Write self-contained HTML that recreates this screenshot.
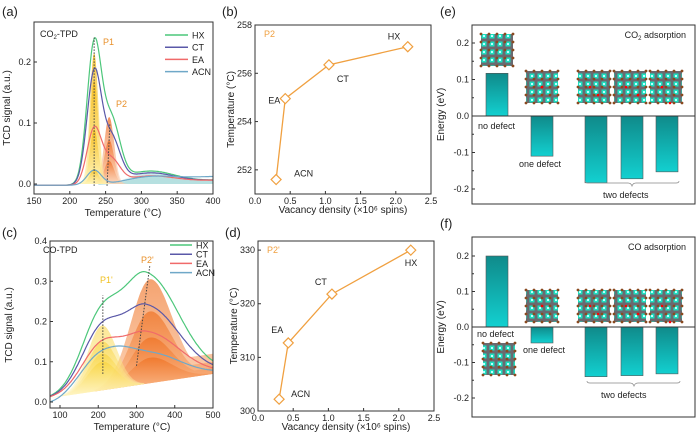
<!DOCTYPE html>
<html><head><meta charset="utf-8"><style>
body{margin:0;background:#fff;}
svg{display:block;font-family:"Liberation Sans",Arial,sans-serif;}
</style></head><body>
<svg id="fig" width="700" height="440" viewBox="0 0 700 440" xmlns="http://www.w3.org/2000/svg">
<defs>
<linearGradient id="gy" x1="0" y1="0" x2="0" y2="1"><stop offset="0" stop-color="#f5b400"/><stop offset="1" stop-color="#fff2a8" stop-opacity="0.5"/></linearGradient>
<linearGradient id="go" x1="0" y1="0" x2="0" y2="1"><stop offset="0" stop-color="#ee6012"/><stop offset="1" stop-color="#fbd0b0" stop-opacity="0.6"/></linearGradient>
<linearGradient id="gy2" x1="0" y1="0" x2="0" y2="1"><stop offset="0" stop-color="#f8cf2a"/><stop offset="1" stop-color="#fff6c8"/></linearGradient>
<linearGradient id="go2" x1="0" y1="0" x2="0" y2="1"><stop offset="0" stop-color="#ee6a18"/><stop offset="1" stop-color="#fab98a"/></linearGradient>
<linearGradient id="gb" x1="0" y1="0" x2="0" y2="1"><stop offset="0" stop-color="#108a8a"/><stop offset="1" stop-color="#12d0d0"/></linearGradient>
<pattern id="mol" width="8" height="8" patternUnits="userSpaceOnUse">
<rect width="8" height="8" fill="#6a6a70"/><rect x="1.5" y="1.5" width="5" height="5" fill="#1ee0c0"/><rect x="3" y="3" width="2" height="2" fill="#bff"/>
</pattern>
<clipPath id="ca"><rect x="34" y="22" width="179" height="172"/></clipPath>
<clipPath id="cc"><rect x="50" y="241" width="163" height="167"/></clipPath>
</defs>
<g id="root"></g>
</svg>
<script>
// ---------- data ----------
var seriesNames=["HX","CT","EA","ACN"];
var seriesColors=["#4cc77a","#5a58a8","#f06a6a","#6fa8c8"];
// panel a: CO2-TPD peak heights (P1 at 234, P2 at 256, broad at 310)
var aP1=[0.225,0.18,0.09,0.024];
var aP2=[0.10,0.072,0.038,0.0];
var aBroad=[0.02,0.017,0.012,0.01];
var aFillP1=[0.215,0.17,0.09,0.025];
var aFillP2=[0.11,0.072,0.038];
// panel c: CO-TPD peak heights (P1' at 205, P2' at 325)
var cP1=[0.173,0.14,0.105,0.085];
var cP2=[0.268,0.19,0.125,0.075];
var cFillP1=[0.19,0.15,0.12,0.10];
var cFillP2=[0.305,0.225,0.16,0.11];
var cFillEnd=[0.12,0.10,0.085,0.07];
// panel b
var bVac=[0.3,0.43,1.05,2.17];
var bTemp=[251.6,254.95,256.35,257.1];
var bLab=["ACN","EA","CT","HX"];
// panel d
var dVac=[0.3,0.43,1.05,2.17];
var dTemp=[302.2,312.7,321.8,330];
// panel e / f
var eVals=[0.117,-0.11,-0.183,-0.172,-0.153];
var fVals=[0.2,-0.045,-0.14,-0.137,-0.132];
var aXTicks=[150,200,250,300,350,400];
var aYTicks=[0.0,0.1,0.2];
var cXTicks=[100,200,300,400,500];
var cYTicks=[0.0,0.1,0.2,0.3,0.4];
var bXTicks=[0.0,0.5,1.0,1.5,2.0,2.5];
var bYTicks=[252,254,256,258];
var dYTicks=[300,310,320,330];
var eYTicks=[-0.2,-0.1,0.0,0.1,0.2];

var NS="http://www.w3.org/2000/svg";
var root=document.getElementById('root');
function el(tag,attrs,parent,text){var e=document.createElementNS(NS,tag);for(var k in attrs)e.setAttribute(k,attrs[k]);if(text!==undefined)e.textContent=text;(parent||root).appendChild(e);return e;}
function lin(d0,d1,p0,p1){return function(v){return p0+(v-d0)*(p1-p0)/(d1-d0);};}
function gs(x,c,h,s){return h*Math.exp(-Math.pow(x-c,2)/(2*s*s));}

function frame(x0,y0,x1,y1,name){
  var r=el('rect',{x:x0,y:y0,width:x1-x0,height:y1-y0,fill:'none',stroke:'#333','stroke-width':1});
  
  
}
function xticks(ticks,X,y,fmt,name){
  ticks.forEach(function(t){el('line',{x1:X(t),x2:X(t),y1:y,y2:y-3,stroke:'#333'});
    var tx=el('text',{x:X(t),y:y+10,'font-size':9,'text-anchor':'middle',fill:'#222'},null,String(fmt(t)));
    
    });
}
function yticks(ticks,Y,x,fmt,name){
  ticks.forEach(function(t){el('line',{x1:x,x2:x+3,y1:Y(t),y2:Y(t),stroke:'#333'});
    var tx=el('text',{x:x-3,y:Y(t)+3,'font-size':9,'text-anchor':'end',fill:'#222'},null,String(fmt(t)));
    
    });
}
function label(x,y,t,size,name,opts){
  var a={x:x,y:y,'font-size':size,fill:'#222'};if(opts)for(var k in opts)a[k]=opts[k];
  var tx=el('text',a,null,t);
  
  
  return tx;
}
function subLabel(x,y,pre,sub,post,size,name,anchor){
  var tx=el('text',{x:x,y:y,'font-size':size,fill:'#222','text-anchor':anchor||'start'});
  
  
  el('tspan',{},tx,pre);el('tspan',{'font-size':6,dy:2},tx,sub);el('tspan',{dy:-2},tx,post);
}
function vlabel(x,y,t,name){
  var tx=el('text',{x:0,y:0,'font-size':10,'text-anchor':'middle',fill:'#222',transform:'translate('+x+','+y+') rotate(-90)'},null,t);
  
  
}
function pathFrom(fn,x0,x1,X,Y,n){var d='';for(var i=0;i<=n;i++){var x=x0+(x1-x0)*i/n;d+=(i?'L':'M')+X(x).toFixed(1)+','+Y(fn(x)).toFixed(1);}return d;}

// ---------- panel a ----------
try{(function(){
var X=lin(150,400,34,213),Y=lin(0,0.2,184,62);
function base(x){return -0.002+0.008*Math.max(0,(x-250)/150);}
var G=el('g',{'clip-path':'url(#ca)'});
var i,p;
for(i=3;i>=0;i--){(function(i){var f=function(x){return base(x)+gs(x,315,aBroad[i],30);};
  p=el('path',{d:pathFrom(f,240,400,X,Y,60)+'L'+X(400)+','+Y(0)+'L'+X(240)+','+Y(0)+'Z',fill:'#9fd6d6','fill-opacity':0.3},G);
  
  })(i);}
for(i=0;i<aFillP2.length;i++){(function(i){var f=function(x){return gs(x,255,aFillP2[i],7);};
  p=el('path',{d:pathFrom(f,225,290,X,Y,50)+'Z',fill:'url(#go)','fill-opacity':0.7},G);
  
  })(i);}
for(i=0;i<aFillP1.length;i++){(function(i){var f=function(x){return gs(x,234,aFillP1[i],6);};
  p=el('path',{d:pathFrom(f,205,265,X,Y,50)+'Z',fill:'url(#gy)','fill-opacity':0.75},G);
  
  })(i);}
for(i=0;i<4;i++){(function(i){var f=function(x){return base(x)+gs(x,234,aP1[i],10)+gs(x,258,aP2[i],12)+gs(x,310,aBroad[i],35)+(i==3?gs(x,400,0.006,50):0);};
  p=el('path',{d:pathFrom(f,150,400,X,Y,200),fill:'none',stroke:seriesColors[i],'stroke-width':1.2},G);
  
  })(i);}
el('line',{x1:X(234),x2:X(234),y1:Y(-0.003),y2:Y(0.24),stroke:'#444','stroke-dasharray':'1.5,1.5'},G);
el('line',{x1:X(252),x2:X(256),y1:Y(-0.003),y2:Y(0.1),stroke:'#444','stroke-dasharray':'1.5,1.5'},G);
frame(34,22,213,194,'plot-frame-a');
xticks(aXTicks,X,194,function(t){return t;},'x-tick-a');yticks(aYTicks,Y,34,function(t){return t.toFixed(1);},'y-tick-a');
subLabel(40,37,'CO','2','-TPD',9,'panel-a-title');
label(103,45,'P1',9,'p1-label',{fill:'#e8902a'});label(116,107,'P2',9,'p2-label',{fill:'#e8902a'});
seriesNames.forEach(function(n,i){var y=35+i*12.2;el('line',{x1:165,x2:188,y1:y,y2:y,stroke:seriesColors[i],'stroke-width':1.5});label(192,y+3.5,n,9,'legend-a-'+n.toLowerCase());});
label(123,216,'Temperature (°C)',10,'x-axis-title-a',{'text-anchor':'middle'});
vlabel(10,108,'TCD signal (a.u.)','y-axis-title-a');
label(2,16,'(a)',13,'panel-label-a');
})();}catch(e){}

// ---------- panel c ----------
try{(function(){
var X=lin(100,500,60,213),Y=lin(0,0.4,402,241);
function base(x){return 0.01+0.06*(x-75)/425;}
function g2(x,h){return x<325?gs(x,325,h,60):gs(x,325,h,85);}
var G=el('g',{'clip-path':'url(#cc)'});
var i,p;
for(i=0;i<cFillP2.length;i++){(function(i){
  var f=function(x){var b0=base(x);var tail=x>335?(cFillEnd[i]-base(500))*Math.min(1,(x-335)/60):0;
    var pk=x<335?gs(x,335,cFillP2[i]-base(335),50):Math.max(gs(x,335,cFillP2[i]-base(335),58),tail);return b0+pk;};
  p=el('path',{d:pathFrom(f,190,500,X,Y,90)+'L'+X(500)+','+Y(base(500))+'L'+X(190)+','+Y(base(190))+'Z',fill:'url(#go2)','fill-opacity':0.62},G);
  
  })(i);}
for(i=0;i<cFillP1.length;i++){(function(i){var f=function(x){return base(x)+gs(x,210,cFillP1[i]-base(210),38);};
  p=el('path',{d:pathFrom(f,75,320,X,Y,80)+'L'+X(320)+','+Y(base(320))+'L'+X(75)+','+Y(base(75))+'Z',fill:'url(#gy2)','fill-opacity':0.5},G);
  
  })(i);}
for(i=0;i<4;i++){(function(i){var f=function(x){return base(x)+gs(x,205,cP1[i],50)+g2(x,cP2[i])+(i==3?gs(x,265,0.015,30)-0.012*Math.exp(-Math.pow((x-75)/50,2)):0);};
  p=el('path',{d:pathFrom(f,75,500,X,Y,200),fill:'none',stroke:seriesColors[i],'stroke-width':1.2},G);
  
  })(i);}
el('line',{x1:X(212),x2:X(212),y1:Y(0.07),y2:Y(0.265),stroke:'#444','stroke-dasharray':'1.5,1.5'},G);
el('line',{x1:X(300),x2:X(335),y1:Y(0.09),y2:Y(0.34),stroke:'#444','stroke-dasharray':'1.5,1.5'},G);
frame(50,241,213,408,'plot-frame-c');
xticks(cXTicks,X,408,function(t){return t;},'x-tick-c');yticks(cYTicks,Y,50,function(t){return t.toFixed(1);},'y-tick-c');
label(43,253,'CO-TPD',9,'panel-c-title');
label(100,283,"P1'",9,'p1prime-label',{fill:'#f0c020'});label(141,263,"P2'",9,'p2prime-label',{fill:'#e8902a'});
seriesNames.forEach(function(n,i){var y=245+i*9.2;el('line',{x1:170,x2:192,y1:y,y2:y,stroke:seriesColors[i],'stroke-width':1.5});label(196,y+3.5,n,9,'legend-c-'+n.toLowerCase());});
label(132,430,'Temperature (°C)',10,'x-axis-title-c',{'text-anchor':'middle'});
vlabel(12,325,'TCD signal (a.u.)','y-axis-title-c');
label(2,237,'(c)',13,'panel-label-c');
})();}catch(e){}

// ---------- panel b / d ----------
function scatter(x0,x1,yTop,yBot,dmin,dmax,vac,temp,yT,tag,title,labOff,titleY,plabel){
  var X=lin(0,2.5,x0,x1),Y=lin(dmin,dmax,yBot,yTop);
  frame(x0,yTop,x1,yBot,'plot-frame-'+tag);
  xticks(bXTicks,X,yBot,function(t){return t.toFixed(1);},'x-tick-'+tag);yticks(yT,Y,x0,function(t){return t;},'y-tick-'+tag);
  var d='';vac.forEach(function(v,i){d+=(i?'L':'M')+X(v)+','+Y(temp[i]);});
  var p=el('path',{d:d,fill:'none',stroke:'#f0a040','stroke-width':1.3});
  
  
  vac.forEach(function(v,i){var cx=X(v),cy=Y(temp[i]);
    var m=el('path',{d:'M'+cx+','+(cy-5)+'L'+(cx+5)+','+cy+'L'+cx+','+(cy+5)+'L'+(cx-5)+','+cy+'Z',fill:'#fff',stroke:'#f0a040','stroke-width':1.2});
    
    
    label(cx+labOff[i][0],cy+labOff[i][1],bLab[i],9,'point-label-'+tag+'-'+bLab[i].toLowerCase());});
  label(x0+9,yTop+12,plabel,9,'series-label-'+tag,{fill:'#f0a040'});
  label((x0+x1)/2,yBot+19,'Vacancy density (×10⁶ spins)',10,'x-axis-title-'+tag,{'text-anchor':'middle'});
  vlabel(x0-21,(yTop+yBot)/2,'Temperature (°C)','y-axis-title-'+tag);
  label(x0-33,titleY,title,13,'panel-label-'+tag);
}
try{scatter(255,431,25,194,251,258,bVac,bTemp,bYTicks,'b','(b)',[[18,-3],[-17,5],[8,17],[-20,-7]],16,'P2');}catch(e){}
try{scatter(258,434,241,411,300,331.7,dVac,dTemp,dYTicks,'d','(d)',[[12,-2],[-17,-10],[-17,-9],[-6,16]],237,"P2'");}catch(e){}

// ---------- panel e / f ----------
function mol(x,y,name,red){
  var gm=el('g',{});
  
  
  el('rect',{x:x,y:y,width:32,height:32,fill:'url(#mol)'},gm);
  for(var i=0;i<=4;i++){for(var j=0;j<=4;j++){el('circle',{cx:x+i*8,cy:y+j*8,r:1.4,fill:'#8a4a20'},gm);}}
  (red||[]).forEach(function(r){el('circle',{cx:x+r[0],cy:y+r[1],r:1.3,fill:'#f00'},gm);});
}
var barX=[497,542,596,632,667];
function bars(yTop,yBot,y02,y0,vals,tag,title,molY,mol0){
  var Y=function(v){return y0+(y0-y02)*(-v)/0.2;};
  frame(472,yTop,695,yBot,'plot-frame-'+tag);
  yticks(eYTicks,Y,472,function(t){return t.toFixed(1);},'y-tick-'+tag);
  [-0.15,-0.05,0.05,0.15].forEach(function(t){el('line',{x1:472,x2:474,y1:Y(t),y2:Y(t),stroke:'#333'});});
  vals.forEach(function(v,i){var y=Math.min(Y(v),Y(0));
    var r=el('rect',{x:barX[i]-11,y:y,width:22,height:Math.abs(Y(v)-Y(0)),fill:'url(#gb)',stroke:'#555','stroke-width':0.6});
    
    });
  el('line',{x1:472,x2:695,y1:Y(0),y2:Y(0),stroke:'#333','stroke-width':1});
  label(440,yTop-9,title,13,'panel-label-'+tag);
  vlabel(444,(yTop+yBot)/2,'Energy (eV)','y-axis-title-'+tag);
  mol(mol0[0],mol0[1],'structure-no-defect-'+tag);
  mol(526,molY,'structure-one-defect-'+tag,[[16,16]]);
  mol(578,molY,'structure-two-defects-1-'+tag,[[12,16],[20,24]]);
  mol(614,molY,'structure-two-defects-2-'+tag,[[12,16],[24,24]]);
  mol(650,molY,'structure-two-defects-3-'+tag,[[12,16],[20,32]]);
}
try{bars(25,204,43,116,eVals,'e','(e)',71,[481,34]);
subLabel(686,38,'CO','2',' adsorption',9,'panel-title-e','end');
label(478,129,'no defect',9,'label-no-defect-e');label(519,167,'one defect',9,'label-one-defect-e');
el('path',{d:'M585,181 q0,2 3,2 L628,183 q3,0 4,3 q1,-3 4,-3 L676,183 q3,0 3,-2',fill:'none',stroke:'#888','stroke-width':0.7});
label(603,198,'two defects',9,'label-two-defects-e');}catch(e){}
try{bars(237,417,256,327,fVals,'f','(f)',290,[483,343]);
label(686,250,'CO adsorption',9,'panel-title-f',{'text-anchor':'end'});
label(477,337,'no defect',9,'label-no-defect-f');label(523,353,'one defect',9,'label-one-defect-f');
el('path',{d:'M587,381 q0,2 3,2 L630,383 q3,0 4,3 q1,-3 4,-3 L677,383 q3,0 3,-2',fill:'none',stroke:'#888','stroke-width':0.7});
label(601,398,'two defects',9,'label-two-defects-f');}catch(e){}
</script>
</body></html>
